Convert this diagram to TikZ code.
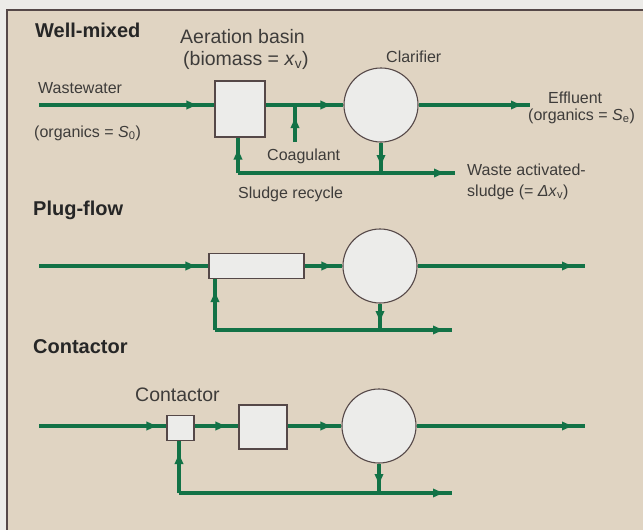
\documentclass[tikz,border=0pt]{standalone}
\usepackage{fontspec}
\setmainfont{Liberation Sans}
\usetikzlibrary{arrows.meta,decorations.markings}
\definecolor{bgout}{RGB}{236,235,232}
\definecolor{paper}{RGB}{224,212,194}
\definecolor{flowgreen}{RGB}{18,114,70}
\definecolor{boxfill}{RGB}{236,236,234}
\definecolor{edgegray}{RGB}{85,72,72}
\definecolor{ink}{RGB}{62,60,58}
\begin{document}
\begin{tikzpicture}[x=1pt,y=-1pt,
  heading/.style={anchor=base west, font=\fontsize{20}{22}\selectfont\bfseries, text=black!85, inner sep=0},
  lbl/.style={anchor=base west, font=\fontsize{16}{18}\selectfont, text=ink, inner sep=0},
  biglbl/.style={lbl, font=\fontsize{19.5}{22}\selectfont},
  tank/.style={draw=edgegray, fill=boxfill, line width=1.1pt, inner sep=0},
  clar/.style={circle, draw=edgegray, fill=boxfill, line width=1.1pt, minimum size=74pt, inner sep=0},
  flowline/.style={draw, color=flowgreen, line width=3.2pt},
  flowto/.style={flowline, postaction={decorate}, decoration={markings, mark=at position #1 with {\arrow{Latex[length=13pt,width=9.5pt]}}}},
  flowto/.default=-6pt]
\useasboundingbox (0,0) rectangle (643,530);
\fill[bgout] (0,0) rectangle (643,530);
\fill[paper] (7,10) rectangle (643,530);
\draw[edgegray, line width=1.2pt] (643,10) -- (7,10) -- (7,530);

% ---------- Well-mixed ----------
\node[heading] (h1) at (35,37) {Well-mixed};
\node[biglbl] (aer) at (180,43) {Aeration basin};
\node[biglbl] (bio) at (183,65) {(biomass = \textit{x}\textsubscript{v})};
\node[lbl] (clarlbl) at (386,62) {Clarifier};
\node[lbl] (ww) at (38,93) {Wastewater};
\node[lbl] (org0) at (34,137) {(organics = \textit{S}\textsubscript{0})};
\node[lbl] (eff) at (548,103) {Effluent};
\node[lbl] (orge) at (528,120) {(organics = \textit{S}\textsubscript{e})};
\node[lbl] (coaglbl) at (267,160) {Coagulant};
\node[lbl] (sludge) at (238,198) {Sludge recycle};
\node[lbl] (waste) at (467,175) {Waste activated-};
\node[lbl] (waste2) at (467,196) {sludge (= \textit{Δx}\textsubscript{v})};

\node[tank, minimum width=50pt, minimum height=56pt] (b1) at (240,109) {};
\node[clar] (c1) at (381,105) {};
\coordinate (in1) at (39,105);
\coordinate (out1) at (530,105);
\coordinate (coag) at (295,142);
\coordinate (rc1) at (238,173);
\coordinate (wa1) at (455,173);
\draw[flowto=-15pt] (in1) -- (in1 -| b1.west);
\draw[flowto=-10pt] (b1.east |- in1) -- (c1.west);
\draw[flowto=-6pt] (c1.east) -- (out1);
\draw[flowto=-10pt] (coag) -- (coag |- in1);
\draw[flowto=-8pt] (rc1) -- (wa1);
\draw[flowto=-9pt] (rc1) -- (rc1 |- b1.south);
\draw[flowto=-5pt] (c1.south) -- (c1.south |- rc1);

% ---------- Plug-flow ----------
\node[heading] (h2) at (33,215) {Plug-flow};
\node[tank, minimum width=95pt, minimum height=25pt] (b2) at (256.5,266) {};
\node[clar] (c2) at (380,266) {};
\coordinate (in2) at (39,266);
\coordinate (out2) at (585,266);
\coordinate (rc2) at (215,330);
\coordinate (wa2) at (452,330);
\draw[flowto=-10pt] (in2) -- (b2.west);
\draw[flowto=-8pt] (b2.east) -- (c2.west);
\draw[flowto=-10pt] (c2.east) -- (out2);
\draw[flowto=-6pt] (rc2) -- (wa2);
\draw[flowto=-10pt] (rc2) -- (rc2 |- b2.south);
\draw[flowto=-6pt] (c2.south) -- (c2.south |- rc2);

% ---------- Contactor ----------
\node[heading] (h3) at (33,353) {Contactor};
\node[biglbl] (ctl) at (135,401) {Contactor};
\node[tank, minimum width=27pt, minimum height=25pt] (b3a) at (180.5,428) {};
\node[tank, minimum width=48pt, minimum height=44pt] (b3b) at (263,427) {};
\node[clar] (c3) at (379,426) {};
\coordinate (in3) at (39,426);
\coordinate (out3) at (585,426);
\coordinate (rc3) at (179,493);
\coordinate (wa3) at (452,493);
\draw[flowto=-7pt] (in3) -- (in3 -| b3a.west);
\draw[flowto=-10pt] (b3a.east |- in3) -- (in3 -| b3b.west);
\draw[flowto=-8pt] (in3 -| b3b.east) -- (c3.west);
\draw[flowto=-10pt] (c3.east) -- (out3);
\draw[flowto=-6pt] (rc3) -- (wa3);
\draw[flowto=-10pt] (rc3) -- (rc3 |- b3a.south);
\draw[flowto=-6pt] (c3.south) -- (c3.south |- rc3);
\end{tikzpicture}
\end{document}
